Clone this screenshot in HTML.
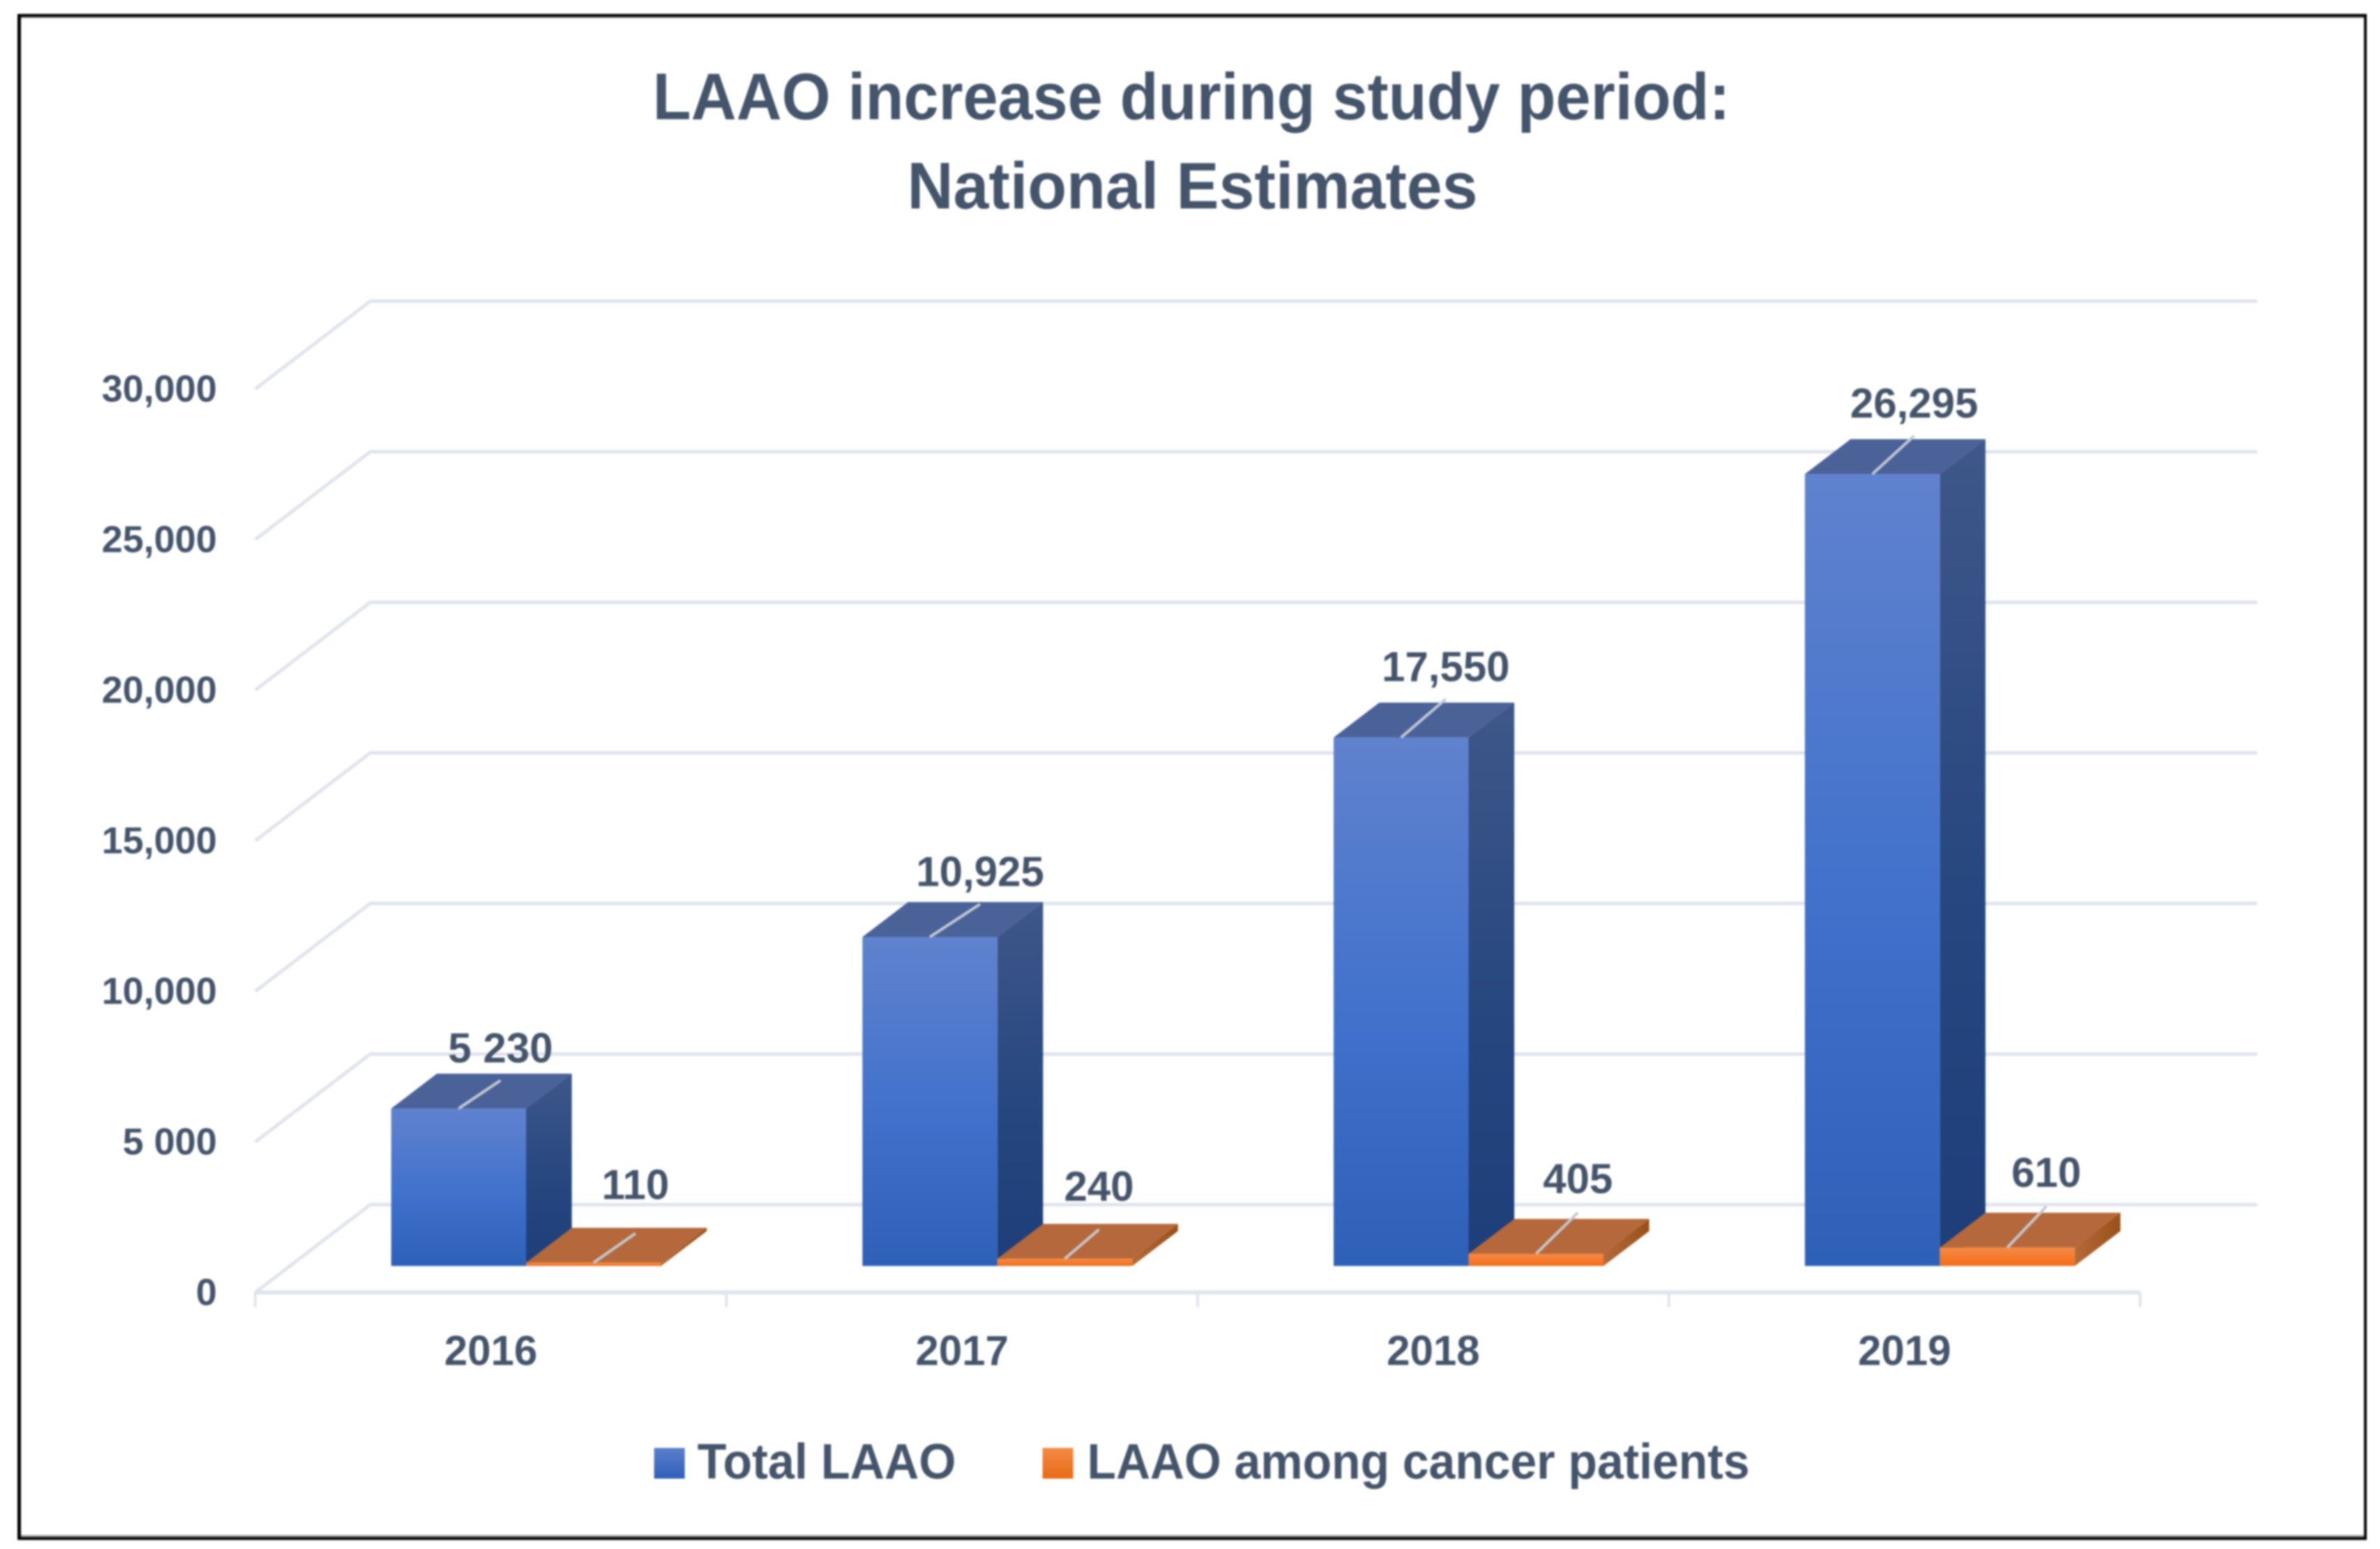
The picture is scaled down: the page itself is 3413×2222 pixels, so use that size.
<!DOCTYPE html>
<html lang="en">
<head>
<meta charset="utf-8">
<title>LAAO increase during study period: National Estimates</title>
<style>
html,body{margin:0;padding:0;background:#fff;}
body{width:3413px;height:2222px;overflow:hidden;}
svg{display:block;filter:blur(1.4px);}
text{font-family:"Liberation Sans",sans-serif;font-weight:700;fill:#44546a;}
</style>
</head>
<body>
<svg id="chart" xmlns="http://www.w3.org/2000/svg" width="3413" height="2222" viewBox="0 0 3413 2222">
  <defs>
    <linearGradient id="blueFront" x1="0" y1="0" x2="0" y2="1">
      <stop offset="0" stop-color="#6082ce"/><stop offset="0.58" stop-color="#3e70cb"/><stop offset="1" stop-color="#2e60b7"/>
    </linearGradient>
    <linearGradient id="blueSide" x1="0" y1="0" x2="0" y2="1">
      <stop offset="0" stop-color="#3f5789"/><stop offset="0.58" stop-color="#25467f"/><stop offset="1" stop-color="#1e3e79"/>
    </linearGradient>
    <linearGradient id="orangeFront" x1="0" y1="0" x2="0" y2="1">
      <stop offset="0" stop-color="#f58a45"/><stop offset="0.6" stop-color="#f5782a"/><stop offset="1" stop-color="#ee6f1c"/>
    </linearGradient>
    <linearGradient id="orangeSide" x1="0" y1="0" x2="1" y2="0">
      <stop offset="0" stop-color="#b46a3a"/><stop offset="1" stop-color="#985018"/>
    </linearGradient>
    <linearGradient id="blueSwatch" x1="0" y1="0" x2="0" y2="1">
      <stop offset="0" stop-color="#5b7fcc"/><stop offset="1" stop-color="#2e60b7"/>
    </linearGradient>
    <linearGradient id="orangeSwatch" x1="0" y1="0" x2="0" y2="1">
      <stop offset="0" stop-color="#f48a45"/><stop offset="1" stop-color="#e96a14"/>
    </linearGradient>
  </defs>

  <rect x="0" y="0" width="3413" height="2222" fill="#ffffff"/>

  <g>
    <rect x="25" y="23" width="3369" height="3" fill="#8f8f8f"/>
    <rect x="25" y="2202" width="3369" height="4" fill="#9a9a9a"/>
    <rect x="25" y="20" width="3369" height="4" fill="#000000"/>
    <rect x="25" y="2205" width="3369" height="4" fill="#000000"/>
    <rect x="25" y="20" width="5" height="2189" fill="#000000"/>
    <rect x="3390" y="20" width="4" height="2189" fill="#000000"/>
  </g>

  <g>
    <text x="936" y="171" font-size="95" textLength="1545" lengthAdjust="spacingAndGlyphs">LAAO increase during study period:</text>
    <text x="1301" y="299" font-size="95" textLength="818" lengthAdjust="spacingAndGlyphs">National Estimates</text>
  </g>

  <g id="gridLayer"></g>
  <g id="axisLayer"></g>
  <g id="barLayer"></g>
  <g id="labelLayer"></g>

  <g>
    <g>
      <rect x="938" y="2077" width="44" height="44" fill="url(#blueSwatch)"/>
      <text x="1000" y="2121" font-size="71" textLength="371" lengthAdjust="spacingAndGlyphs">Total LAAO</text>
    </g>
    <g>
      <rect x="1495" y="2077" width="44" height="44" fill="url(#orangeSwatch)"/>
      <text x="1559" y="2121" font-size="71" textLength="950" lengthAdjust="spacingAndGlyphs">LAAO among cancer patients</text>
    </g>
  </g>
</svg>

<script>
const categories = ['2016', '2017', '2018', '2019'];
const totalLaao = [5230, 10925, 17550, 26295];
const cancerLaao = [110, 240, 405, 610];
const totalLabels = ['5 230', '10,925', '17,550', '26,295'];
const cancerLabels = ['110', '240', '405', '610'];
const yTickValues = [0, 5000, 10000, 15000, 20000, 25000, 30000];
const yTickLabels = ['0', '5 000', '10,000', '15,000', '20,000', '25,000', '30,000'];

const SVG_NS = 'http://www.w3.org/2000/svg';
const gridLayer = document.getElementById('gridLayer');
const axisLayer = document.getElementById('axisLayer');
const barLayer = document.getElementById('barLayer');
const labelLayer = document.getElementById('labelLayer');

const axisLeft = 366;
const axisRight = 3069;
const floorFrontY = 1854;
const floorBackY = 1728;
const backLeft = 531;
const backRight = 3237;
const barBaseY = 1816;
const barWidth = 193.5;
const barInset = 195;
const depthX = 65.5;
const depthY = 50;
const pxPerUnit = 0.0432;
const categoryWidth = (axisRight - axisLeft) / categories.length;

function yOffset(value) { return value * pxPerUnit; }
function categoryX(index) { return axisLeft + index * categoryWidth; }

function make(tag, attrs, parent) {
  const el = document.createElementNS(SVG_NS, tag);
  Object.keys(attrs).forEach(function (k) { el.setAttribute(k, attrs[k]); });
  parent.appendChild(el);
  return el;
}
function pts(list) { return list.map(function (p) { return p[0] + ',' + p[1]; }).join(' '); }

yTickValues.forEach(function (value, i) {
  const off = yOffset(value);
  const line = make('polyline', {
    points: pts([[axisLeft, floorFrontY - off], [backLeft, floorBackY - off], [backRight, floorBackY - off]]),
    fill: 'none', stroke: '#e0e4ec', 'stroke-width': 5
  }, gridLayer);
  
  

  const label = make('text', {
    x: 311, y: floorFrontY - off + 18, 'font-size': 54, 'text-anchor': 'end'
  }, axisLayer);
  
  
  label.textContent = yTickLabels[i];
});

const floorLine = make('line', {
  x1: axisLeft, y1: floorFrontY, x2: axisRight, y2: floorFrontY, stroke: '#e0e4ec', 'stroke-width': 6
}, axisLayer);



for (let i = 0; i <= categories.length; i++) {
  const tick = make('line', {
    x1: categoryX(i), y1: floorFrontY, x2: categoryX(i), y2: floorFrontY + 21, stroke: '#e0e4ec', 'stroke-width': 4
  }, axisLayer);
  
  
}

categories.forEach(function (name, i) {
  const catLabel = make('text', {
    x: categoryX(i) + categoryWidth / 2, y: 1958, 'font-size': 60, 'text-anchor': 'middle'
  }, axisLayer);
  
  
  catLabel.textContent = name;
});

function drawBox(x, value, frontFill, sideFill, topFill, group) {
  const top = barBaseY - yOffset(value);
  const right = x + barWidth;
  const side = make('polygon', {
    points: pts([[right, barBaseY], [right + depthX, barBaseY - depthY], [right + depthX, top - depthY], [right, top]]),
    fill: sideFill
  }, group);
  
  

  const roof = make('polygon', {
    points: pts([[x, top], [right, top], [right + depthX, top - depthY], [x + depthX, top - depthY]]),
    fill: topFill
  }, group);
  
  

  const front = make('rect', {
    x: x, y: top, width: barWidth, height: Math.max(barBaseY - top, 0), fill: frontFill
  }, group);
  
  
  return top;
}

function drawLabel(centerX, top, baseline, leaderEnd, text, labelShift) {
  const leader = make('line', {
    x1: centerX, y1: top, x2: centerX + 60 + labelShift, y2: leaderEnd, stroke: '#c5cad3', 'stroke-width': 4
  }, labelLayer);
  
  

  const label = make('text', {
    x: centerX + 60 + labelShift, y: baseline, 'font-size': 60, 'text-anchor': 'middle'
  }, labelLayer);
  
  
  label.textContent = text;
}

categories.forEach(function (name, i) {
  const group = make('g', {}, barLayer);
  
  

  const blueX = categoryX(i) + barInset;
  const orangeX = blueX + barWidth;

  const blueTop = drawBox(blueX, totalLaao[i], 'url(#blueFront)', 'url(#blueSide)', '#4a6298', group);
  const orangeTop = drawBox(orangeX, cancerLaao[i], 'url(#orangeFront)', 'url(#orangeSide)', '#b5683b', group);

  // The source labels were hand-dragged in 2017 and 2018; reproduce those shifts.
  const blueShift = name === '2017' ? 12 : (name === '2018' ? 4 : 0);
  const orangeShift = name === '2017' ? -11 : (name === '2019' ? -4 : 0);

  const blueBaseline = blueTop - Math.min(81, 60 + totalLaao[i] * 0.0012);
  drawLabel(blueX + barWidth / 2, blueTop, blueBaseline, blueBaseline + 26, totalLabels[i], blueShift);

  const orangeLift = name === '2016' ? 91 : (name === '2017' ? 83 : 87);
  const orangeBaseline = orangeTop - orangeLift;
  const orangeLeader = cancerLaao[i] < 300 ? 42 : 59;
  drawLabel(orangeX + barWidth / 2, orangeTop, orangeBaseline, orangeTop - orangeLeader, cancerLabels[i], orangeShift);
});
</script>
</body>
</html>
